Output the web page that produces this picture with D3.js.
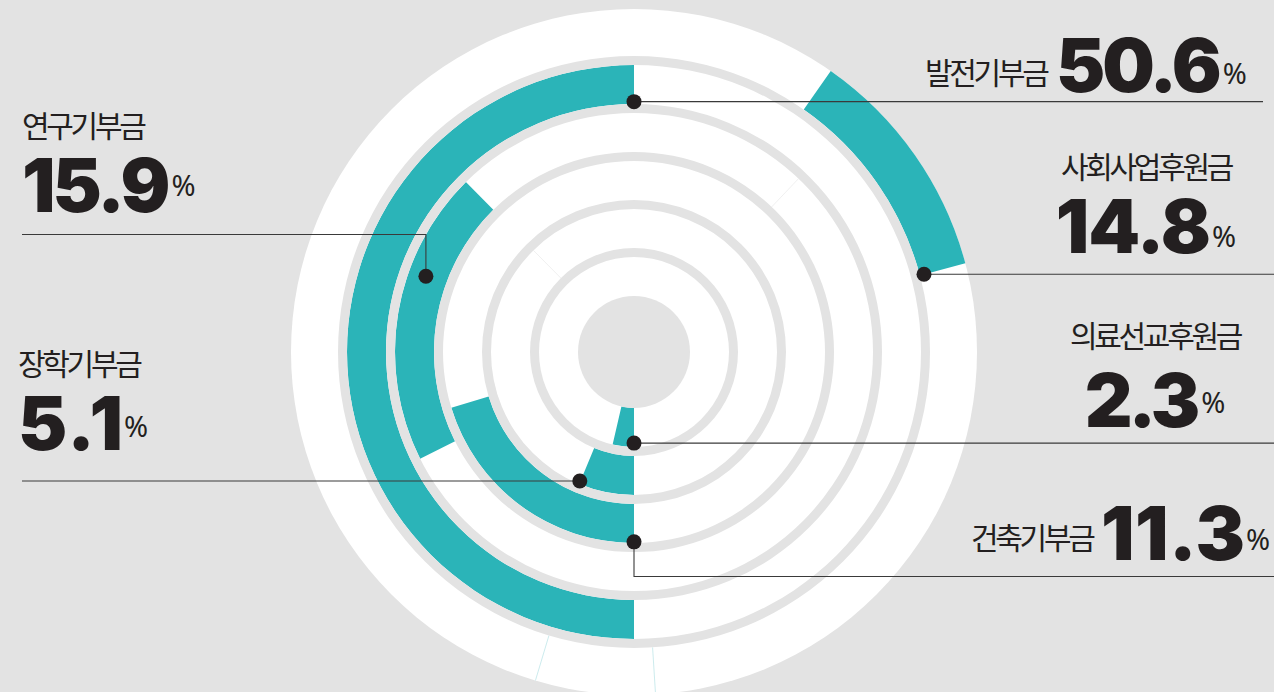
<!DOCTYPE html>
<html>
<head>
<meta charset="utf-8">
<script src="https://cdn.jsdelivr.net/npm/d3@7"></script>
<style>
  body { margin: 0; background: #e3e3e3; overflow: hidden; }
  .label { font-family: "Noto Sans CJK KR", "Noto Sans", sans-serif; font-weight: 400; fill: #231f20; }
  .num { font-family: Inter, "Noto Sans", sans-serif; font-weight: 900; fill: #231f20; }
  .pct { font-family: "Noto Sans", sans-serif; font-weight: 400; }
</style>
</head>
<body>
<svg id="chart" width="1274" height="692"></svg>
<script>
// rings, inside -> out
const categories = ['의료선교후원금', '장학기부금', '건축기부금', '연구기부금', '발전기부금', '사회사업후원금'];
const shares = [2.3, 5.1, 11.3, 15.9, 50.6, 14.8];
// teal arc extent as drawn, degrees clockwise from 12 o'clock
const arcStart = [180, 180, 180, 243.5, 180, 35];
const arcEnd = [193, 202.5, 253, 315.3, 360, 75];
// thin seam marks visible in the rings
const seamCats = ['사회사업후원금', '사회사업후원금', '장학기부금', '연구기부금'];
const seamAngles = [196.7, 176.4, 315.3, 43.5];

const TEAL = '#2bb4b8';
const GRAY = '#e3e3e3';
const INK = '#231f20';
const CX = 634, CY = 352;
const HOLE = 56, DISC = 343;
const RING_STEP = 48, RING_GAP = 9;

// where each leader starts (angle, position across the band) and where it goes
const anchors = {
  '의료선교후원금': { angle: 180, frac: 0.9, path: 'right' },
  '장학기부금': { angle: 202.8, frac: 0.92, path: 'left' },
  '건축기부금': { angle: 180, frac: 0.97, path: 'downRight', turnY: 576.5 },
  '연구기부금': { angle: 290, frac: 0.55, path: 'upLeft', turnY: 234.5 },
  '발전기부금': { angle: 360, frac: 0.06, path: 'right', endX: 1263 },
  '사회사업후원금': { angle: 75, frac: 0.09, path: 'right' },
};
const LEFT_X = 22, RIGHT_X = 1274;

// text placement
const labels = {
  '발전기부금': { inline: true, x: 925, y: 84, nx: 1056, ny: 91.5, pctDy: -8, ls: -3 },
  '사회사업후원금': { x: 1146, y: 178, ny: 253, anchor: 'middle', pctDy: -6, ls: -1 },
  '의료선교후원금': { x: 1155, y: 347, ny: 426.5, anchor: 'middle', pctDy: -14, ls: -4 },
  '건축기부금': { inline: true, x: 971, y: 548.5, nx: 1101, ny: 560, pctDy: -10, ls: 0.5 },
  '연구기부금': { x: 22, y: 136.5, ny: 211.5, anchor: 'start', pctDy: -16, ls: -3 },
  '장학기부금': { x: 18, y: 375, ny: 450, anchor: 'start', pctDy: -13, ls: 1.5 },
};

const svg = d3.select('#chart');
const g = svg.append('g').attr('transform', `translate(${CX},${CY})`);

const rScale = d3.scaleBand()
  .domain(categories)
  .range([HOLE, HOLE + categories.length * RING_STEP - RING_GAP])
  .paddingInner(RING_GAP / RING_STEP)
  .paddingOuter(0);

const angle = d3.scaleLinear().domain([0, 360]).range([0, 2 * Math.PI]);

const inner = (c) => rScale(c);
const outer = (c, i) => (i === categories.length - 1 ? DISC : rScale(c) + rScale.bandwidth());

// white disc
g.append('circle').attr('r', DISC).attr('fill', '#fff');

// teal arcs
const arc = d3.arc();
g.append('g')
  .selectAll('path')
  .data(categories)
  .join('path')
  .attr('d', (c, i) => arc({
    innerRadius: inner(c),
    outerRadius: outer(c, i),
    startAngle: angle(arcStart[i]),
    endAngle: angle(arcEnd[i]),
  }))
  .attr('fill', TEAL);

// seams
g.append('g')
  .selectAll('line')
  .data(seamCats)
  .join('line')
  .each(function (c, i) {
    const k = categories.indexOf(c);
    const a = angle(seamAngles[i]);
    const r0 = inner(c), r1 = outer(c, k);
    d3.select(this)
      .attr('x1', r0 * Math.sin(a)).attr('y1', -r0 * Math.cos(a))
      .attr('x2', r1 * Math.sin(a)).attr('y2', -r1 * Math.cos(a));
  })
  .attr('stroke', (c) => (c === '사회사업후원금' ? '#bfe6e8' : '#ececec'))
  .attr('stroke-width', 0.8);

// gray separators between rings
g.append('g')
  .selectAll('path')
  .data(categories.slice(0, -1))
  .join('path')
  .attr('d', (c, i) => arc({
    innerRadius: inner(c) + rScale.bandwidth(),
    outerRadius: inner(categories[i + 1]),
    startAngle: 0,
    endAngle: 2 * Math.PI,
  }))
  .attr('fill', GRAY);

// hole
g.append('circle').attr('r', HOLE).attr('fill', GRAY);

// dots + leaders
const dotPos = (c) => {
  const k = categories.indexOf(c);
  const a = anchors[c];
  const r = inner(c) + a.frac * (outer(c, k) - inner(c));
  const t = angle(a.angle);
  return [CX + r * Math.sin(t), CY - r * Math.cos(t)];
};

const leader = (c) => {
  const a = anchors[c];
  const [x, y] = dotPos(c);
  if (a.path === 'right') return [[x, y], [a.endX || RIGHT_X, y]];
  if (a.path === 'left') return [[x, y], [LEFT_X, y]];
  if (a.path === 'downRight') return [[x, y], [x, a.turnY], [RIGHT_X, a.turnY]];
  return [[x, y], [x, a.turnY], [LEFT_X, a.turnY]];
};

svg.append('g')
  .selectAll('path')
  .data(categories)
  .join('path')
  .attr('d', (c) => d3.line()(leader(c)))
  .attr('fill', 'none')
  .attr('stroke', '#3a3a3a')
  .attr('stroke-width', 1.1);

svg.append('g')
  .selectAll('circle')
  .data(categories)
  .join('circle')
  .attr('cx', (c) => dotPos(c)[0])
  .attr('cy', (c) => dotPos(c)[1])
  .attr('r', 7.5)
  .attr('fill', INK);

// labels
const fmt = d3.format('.1f');
const NUM_SIZE = 74, LABEL_SIZE = 30, PCT_SIZE = 29;

categories.forEach((c, i) => {
  const L = labels[c];
  svg.append('text')
    .attr('class', 'label')
    .attr('x', L.x).attr('y', L.y)
    .attr('font-size', LABEL_SIZE)
    .attr('letter-spacing', -3.3)
    .attr('text-anchor', L.inline ? 'start' : L.anchor)
    .text(c);

  const t = svg.append('text')
    .attr('class', 'num')
    .attr('x', L.inline ? L.nx : L.x)
    .attr('y', L.ny)
    .attr('font-size', NUM_SIZE)
    .attr('letter-spacing', L.ls)
    .attr('text-anchor', L.inline ? 'start' : L.anchor);
  t.append('tspan').text(fmt(shares[i]));
  // the spacing after the last digit is cancelled so % sits snug
  t.append('tspan')
    .attr('class', 'pct')
    .attr('font-size', PCT_SIZE)
    .attr('dx', 1 - L.ls)
    .attr('dy', L.pctDy)
    .attr('letter-spacing', 0)
    .text('%');
});
</script>
</body>
</html>
